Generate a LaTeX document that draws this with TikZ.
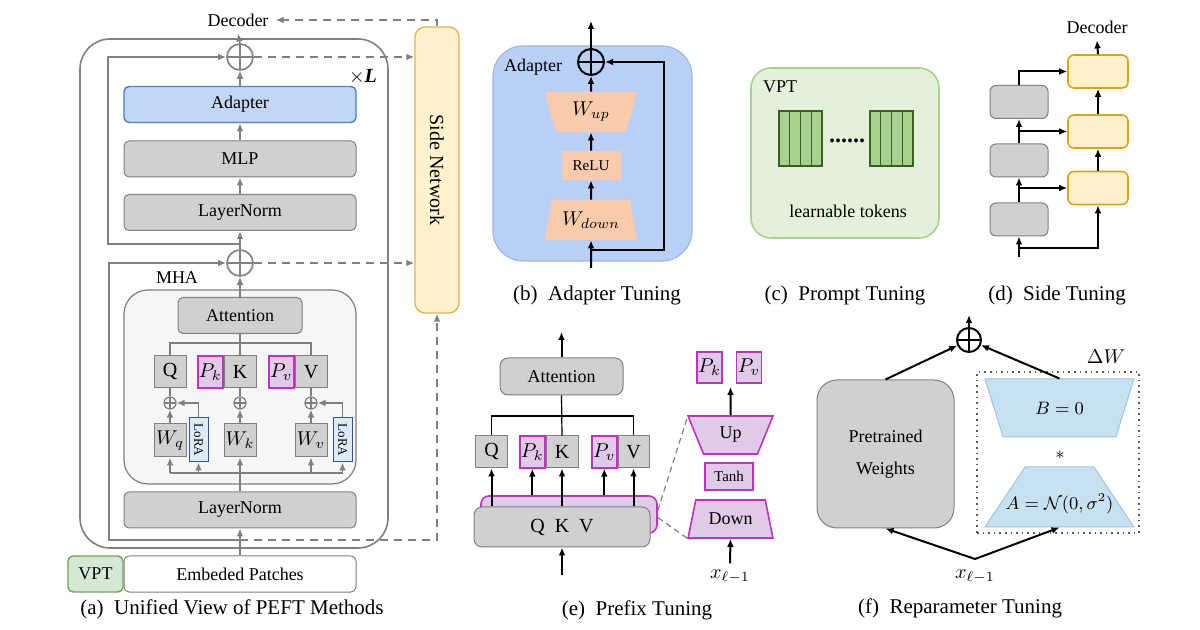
\documentclass[tikz,border=0pt]{standalone}
\usepackage{amsmath}
\usepackage{amssymb}
\usepackage{fontspec}
\setmainfont{Liberation Serif}
\usetikzlibrary{arrows.meta,positioning,shapes.geometric,calc}
\definecolor{bdgray}{HTML}{7F7F7F}
\definecolor{boxgray}{HTML}{D0D0D0}
\definecolor{mhafill}{HTML}{F6F6F6}
\definecolor{adpfill}{HTML}{C2D7F5}
\definecolor{adpbd}{HTML}{4A7FC1}
\definecolor{bgblue}{HTML}{B9CFF5}
\definecolor{bgbd}{HTML}{9DB8E8}
\definecolor{salmon}{HTML}{F8CBAD}
\definecolor{sidefill}{HTML}{FFF2CC}
\definecolor{sidebd}{HTML}{DDB64D}
\definecolor{dyelbd}{HTML}{D9A520}
\definecolor{vptfill}{HTML}{D5E8D4}
\definecolor{vptbd}{HTML}{6FA35A}
\definecolor{cfill}{HTML}{E3F1DA}
\definecolor{cbd}{HTML}{A9D18E}
\definecolor{tokfill}{HTML}{A9D18E}
\definecolor{tokbd}{HTML}{3B5E2B}
\definecolor{prefill}{HTML}{E1C9E8}
\definecolor{prebd}{HTML}{C033C0}
\definecolor{lorafill}{HTML}{DDEBF7}
\definecolor{lorabd}{HTML}{2E5597}
\definecolor{ffill}{HTML}{C7E1F0}
\definecolor{fbd}{HTML}{9DC3E6}
\definecolor{dwbd}{HTML}{595959}

\begin{document}
\begin{tikzpicture}[x=0.5pt, y=-0.5pt, >={Latex[length=4pt,width=3.4pt]},
    font=\fontsize{9}{11}\selectfont,
    f10/.style={font=\fontsize{10}{12}\selectfont},
    fsmall/.style={font=\fontsize{7.5}{9}\selectfont},
    subcap/.style={font=\fontsize{10.5}{12}\selectfont},
    box/.style={draw=bdgray, fill=boxgray, line width=0.5pt, rounded corners=2.5pt, inner sep=0pt, minimum height=18pt},
    wbox/.style={box, minimum width=116pt},
    qbox/.style={draw=bdgray, fill=boxgray, line width=0.5pt, inner sep=0pt, minimum width=16pt, minimum height=16pt, f10},
    pbox/.style={qbox, draw=prebd, fill=prefill, line width=0.7pt, minimum width=12.5pt},
    lora/.style={draw=lorabd, fill=lorafill, line width=0.5pt, inner sep=0pt, minimum width=9.5pt, minimum height=22pt},
    oplus/.style={circle, draw, inner sep=0pt, minimum size=#1,
        path picture={\draw (path picture bounding box.north) -- (path picture bounding box.south)
                            (path picture bounding box.west) -- (path picture bounding box.east);}},
    trap/.style={trapezium, trapezium stretches=true, trapezium angle=#1, inner sep=0pt},
    gline/.style={draw=bdgray, line width=0.8pt},
    garrow/.style={gline, ->},
    gdash/.style={garrow, dash pattern=on 4pt off 3pt},
    barrow/.style={->, line width=1pt}]
    \useasboundingbox (0,0) rectangle (1200,630);

    % (a) unified view
    \node[draw=bdgray, line width=0.8pt, rounded corners=15pt, minimum width=154pt, minimum height=254.5pt] (blk) at (234,293.5) {};
    \node[draw=bdgray, fill=mhafill, line width=0.6pt, rounded corners=12pt, minimum width=116pt, minimum height=97pt] (mha) at (240,387) {};
    \node (mhat) at (177,278) {MHA};
    \node[f10] (xl) at (363,77) {$\times$\textbf{\textit{L}}};
    \node (dec) at (238,20) {Decoder};
    \node[wbox, fill=adpfill, draw=adpbd, line width=0.7pt] (adp) at (240,104.5) {Adapter};
    \node[wbox] (mlp) at (240,159) {MLP};
    \node[wbox] (ln1) at (240,212.5) {LayerNorm};
    \node[wbox] (ln2) at (240,510) {LayerNorm};
    \node[wbox, fill=white] (emb) at (240,574) {Embeded Patches};
    \node[box, fill=vptfill, draw=vptbd, line width=0.7pt, minimum width=27.5pt] (vpt) at (95.5,574) {VPT};
    \node[draw=sidebd, fill=sidefill, line width=0.7pt, rounded corners=5pt, minimum width=22pt, minimum height=143pt] (side) at (437,170) {};
    \node[rotate=-90, f10] (sidet) at (side) {Side Network};
    \node[oplus=13pt, color=bdgray, line width=0.8pt] (c1) at (240,57) {};
    \node[oplus=13pt, color=bdgray, line width=0.8pt] (c2) at (240,263) {};
    \node[box, minimum width=62pt] (att) at (240,315.5) {Attention};
    \node[qbox] (q) at (170,372) {Q};
    \node[qbox] (k) at (240,372) {K};
    \node[qbox] (v) at (311,372) {V};
    \node[pbox, left=0pt of k] (pk) {$P_k$};
    \node[pbox, left=0pt of v] (pv) {$P_v$};
    \node[oplus=6pt, color=bdgray, line width=0.6pt] (aq) at (170,403) {};
    \node[oplus=6pt, color=bdgray, line width=0.6pt] (ak) at (240,403) {};
    \node[oplus=6pt, color=bdgray, line width=0.6pt] (av) at (311,403) {};
    \node[qbox, minimum height=16.5pt] (wq) at (170,440.5) {$W_q$};
    \node[qbox, minimum height=16.5pt] (wk) at (240,440.5) {$W_k$};
    \node[qbox, minimum height=16.5pt] (wv) at (311,440.5) {$W_v$};
    \node[lora] (lo1) at (198.5,440) {};
    \node[lora] (lo2) at (342.5,440) {};
    \node[rotate=-90, font=\fontsize{6.5}{7}\selectfont] (lo1t) at (lo1) {LoRA};
    \node[rotate=-90, font=\fontsize{6.5}{7}\selectfont] (lo2t) at (lo2) {LoRA};
    \coordinate (s1) at (109,540);
    \coordinate (s2) at (108,244);
    \coordinate (bus) at (240,473);
    \coordinate (qkvbus) at (240,343);
    \draw[garrow] (emb.north) -- (ln2.south);
    \draw[garrow] (emb.north |- s1) -- (s1) |- (c2.west);
    \draw[gline] (wq.south |- bus) -- (lo2.south |- bus);
    \draw[garrow] (ln2.north) -- (wk.south);
    \foreach \n in {wq,lo1,wv,lo2}
        \draw[garrow] (\n.south |- bus) -- (\n.south);
    \draw[garrow] (wq.north) -- (aq.south);
    \draw[garrow] (wk.north) -- (ak.south);
    \draw[garrow] (wv.north) -- (av.south);
    \draw[gline] (aq.north) -- (q.south);
    \draw[gline] (ak.north) -- (k.south);
    \draw[gline] (av.north) -- (v.south);
    \draw[garrow] (lo1.north) |- (aq.east);
    \draw[garrow] (lo2.north) |- (av.east);
    \draw[gline] (q.north) |- (qkvbus) -| (v.north);
    \draw[gline] (att.south) -- (k.north);
    \draw[garrow] (att.north) -- (c2.south);
    \draw[garrow] (c2.north) -- (ln1.south);
    \draw[garrow] (ln1.north) -- (mlp.south);
    \draw[garrow] (mlp.north) -- (adp.south);
    \draw[garrow] (adp.north) -- (c1.south);
    \draw[garrow] (c1.north) -- (dec.south);
    \draw[garrow] (c2.north |- s2) -- (s2) |- (c1.west);
    \draw[gdash] (c1.east) -- (side.west |- c1.east);
    \draw[gdash] (c2.east) -- (side.west |- c2.east);
    \draw[gdash] (emb.north |- s1) -- (side.south |- s1) -- (side.south);
    \draw[gdash] (side.north) -- (side.north |- dec) -- (dec.east);
    \node[subcap] (capa) at (232,609) {(a)\ \ Unified View of PEFT Methods};

    % (b) adapter
    \node[fill=bgblue, draw=bgbd, line width=0.6pt, rounded corners=15pt, minimum width=99.5pt, minimum height=107.5pt] (adbg) at (592.5,153.5) {};
    \node (adt) at (533,67) {Adapter};
    \node[oplus=13pt, line width=1pt] (cb) at (591,62) {};
    \node[trap=72, shape border rotate=180, fill=salmon, minimum width=46.5pt, minimum height=20pt, f10] (wup) at (591,112) {$W_{up}$};
    \node[fill=salmon, inner sep=0pt, minimum width=29.5pt, minimum height=14.5pt, fsmall] (relu) at (591,165.5) {ReLU};
    \node[trap=72, fill=salmon, minimum width=46.5pt, minimum height=20pt, f10] (wdn) at (591,220) {$W_{down}$};
    \coordinate (bin) at (591,268);
    \coordinate (bout) at (591,21);
    \coordinate (bskip) at (664,250);
    \draw[barrow] (bin) -- (wdn.south);
    \draw[barrow] (wdn.north) -- (relu.south);
    \draw[barrow] (relu.north) -- (wup.south);
    \draw[barrow] (wup.north) -- (cb.south);
    \draw[barrow] (cb.north) -- (bout);
    \draw[barrow] (bin |- bskip) -- (bskip) |- (cb.east);
    \node[subcap] (capb) at (597,295) {(b)\ \ Adapter Tuning};

    % (c) prompt
    \node[fill=cfill, draw=cbd, line width=0.8pt, rounded corners=10pt, minimum width=94pt, minimum height=85pt] (cbg) at (845,153) {};
    \node (vptt) at (780,87) {VPT};
    \foreach \gx in {779,870}
        \foreach \i in {0,...,3}
            \draw[fill=tokfill, draw=tokbd, line width=0.6pt] ({\gx+\i*10.75},111) rectangle ++(10.75,55);
    \node[font=\fontsize{12}{12}\selectfont\bfseries] (dots) at (847,141) {......};
    \node (lt) at (848,211) {learnable tokens};
    \node[subcap] (capc) at (845,295) {(c)\ \ Prompt Tuning};

    % (d) side
    \node[box, minimum width=29pt, minimum height=16.5pt, rounded corners=3pt] (g1) at (1019,102) {};
    \node[box, minimum width=29pt, minimum height=16.5pt, rounded corners=3pt] (g2) at (1019,160.5) {};
    \node[box, minimum width=29pt, minimum height=16.5pt, rounded corners=3pt] (g3) at (1019,219.5) {};
    \node[box, fill=sidefill, draw=dyelbd, line width=0.8pt, minimum width=30pt, minimum height=16.5pt, rounded corners=3pt] (y1) at (1098,71.5) {};
    \node[box, fill=sidefill, draw=dyelbd, line width=0.8pt, minimum width=30pt, minimum height=16.5pt, rounded corners=3pt] (y2) at (1098,131.5) {};
    \node[box, fill=sidefill, draw=dyelbd, line width=0.8pt, minimum width=30pt, minimum height=16.5pt, rounded corners=3pt] (y3) at (1098,188) {};
    \node (ddec) at (1097,27) {Decoder};
    \coordinate (din) at (1019,257);
    \coordinate (dsplit) at (1019,248);
    \draw[barrow] (din) -- (g3.south);
    \draw[barrow] (dsplit) -| (y3.south);
    \draw[barrow] (g3.north) -- (g2.south);
    \draw[barrow] (g2.north) -- (g1.south);
    \draw[barrow] (g3.north |- y3.west) -- (y3.west);
    \draw[barrow] (g2.north |- y2.west) -- (y2.west);
    \draw[barrow] (g1.north) |- (y1.west);
    \draw[barrow] (y3.north) -- (y2.south);
    \draw[barrow] (y2.north) -- (y1.south);
    \draw[barrow] (y1.north) -- (ddec.south);
    \node[subcap] (capd) at (1057,295) {(d)\ \ Side Tuning};

    % (e) prefix
    \node[box, minimum width=61.5pt, minimum height=18.5pt, rounded corners=4pt] (att2) at (561.5,376.5) {Attention};
    \coordinate (eout) at (561.5,332);
    \node[qbox] (q2) at (491.5,452) {Q};
    \node[qbox] (k2) at (562,452) {K};
    \node[qbox, minimum width=15.5pt] (v2) at (633.5,452) {V};
    \node[pbox, left=0pt of k2] (pk2) {$P_k$};
    \node[pbox, left=0pt of v2] (pv2) {$P_v$};
    \node[box, fill=prefill, draw=prebd, line width=0.8pt, minimum width=88pt, minimum height=18.5pt, rounded corners=4pt] (pfx) at (569,514.5) {};
    \node[box, minimum width=88pt, minimum height=20pt, rounded corners=4pt, f10] (qkv) at (562,527) {Q\ \ K\ \ V};
    \coordinate (ein) at (562,575);
    \coordinate (ebus) at (562,416);
    \draw[barrow] (ein) -- (qkv.south);
    \draw[barrow] (qkv.north -| q2) -- (q2.south);
    \draw[barrow] (qkv.north -| k2) -- (k2.south);
    \draw[barrow] (qkv.north -| v2) -- (v2.south);
    \draw[barrow] (pfx.north -| pk2) -- (pk2.south);
    \draw[barrow] (pfx.north -| pv2) -- (pv2.south);
    \draw[line width=0.6pt] (q2.north) |- (ebus) -| (v2.north);
    \draw[line width=0.6pt] (att2.south) -- (k2.north);
    \draw[barrow] (att2.north) -- (eout);
    \node[trap=68, shape border rotate=180, fill=prefill, draw=prebd, line width=0.8pt, minimum width=42.5pt, minimum height=19pt] (up) at (730.5,435) {Up};
    \node[draw=prebd, fill=prefill, line width=0.8pt, inner sep=0pt, minimum width=24pt, minimum height=13.5pt, fsmall] (tanh) at (729,476.5) {Tanh};
    \node[trap=68, fill=prefill, draw=prebd, line width=0.8pt, minimum width=42.5pt, minimum height=19pt] (down) at (730.5,519) {Down};
    \node[pbox, minimum height=15.5pt] (pk3) at (709.5,367.5) {$P_k$};
    \node[pbox, minimum height=15.5pt] (pv3) at (749,367.5) {$P_v$};
    \coordinate (uout) at (730.5,387);
    \draw[barrow] (up.north) -- (uout);
    \node[f10] (xe) at (730,577) {$x_{\ell-1}$};
    \draw[barrow] (xe.north) -- (down.south);
    \draw[draw=gray, line width=0.6pt, dash pattern=on 3pt off 2pt] ($(pfx.east)+(0,-4)$) -- ($(up.north)+(-42.5,0)$);
    \draw[draw=gray, line width=0.6pt, dash pattern=on 3pt off 2pt] ($(pfx.east)+(0,3)$) -- ($(down.south)+(-42.5,0)$);
    \node[subcap] (cape) at (637,610) {(e)\ \ Prefix Tuning};

    % (f) reparameter
    \node[oplus=12pt, line width=1pt] (cf) at (969,340) {};
    \coordinate (fout) at (969,315);
    \node[box, minimum width=68.5pt, minimum height=74pt, rounded corners=10pt, align=center] (pw) at (885.5,454) {Pretrained\\[5pt]Weights};
    \node[draw=dwbd, dotted, line width=0.8pt, minimum width=81pt, minimum height=80.5pt] (dw) at (1058,452.5) {};
    \node[f10] (dwt) at (1106,357) {$\Delta W$};
    \node[trap=57.5, shape border rotate=180, fill=ffill, draw=fbd, line width=0.5pt, minimum width=74.5pt, minimum height=29pt] (bm) at (1059.5,408) {$B=0$};
    \node (star) at (1060,455) {$*$};
    \node[trap=57.5, fill=ffill, draw=fbd, line width=0.5pt, minimum width=74.5pt, minimum height=30pt] (am) at (1059.5,497) {\phantom{A}};
    \node (amt) at (1059.5,504) {$A=\mathcal{N}(0,\sigma^2)$};
    \node[f10] (xf) at (975,577) {$x_{\ell-1}$};
    \coordinate (xfork) at (975,559);
    \draw[barrow] (xfork) -- (pw.south);
    \draw[barrow] (xfork) -- (am.south);
    \draw[barrow] (pw.north) -- (cf);
    \draw[barrow] (bm.north) -- (cf);
    \draw[barrow] (cf.north) -- (fout);
    \node[subcap] (capf) at (960,608) {(f)\ \ Reparameter Tuning};
\end{tikzpicture}
\end{document}
